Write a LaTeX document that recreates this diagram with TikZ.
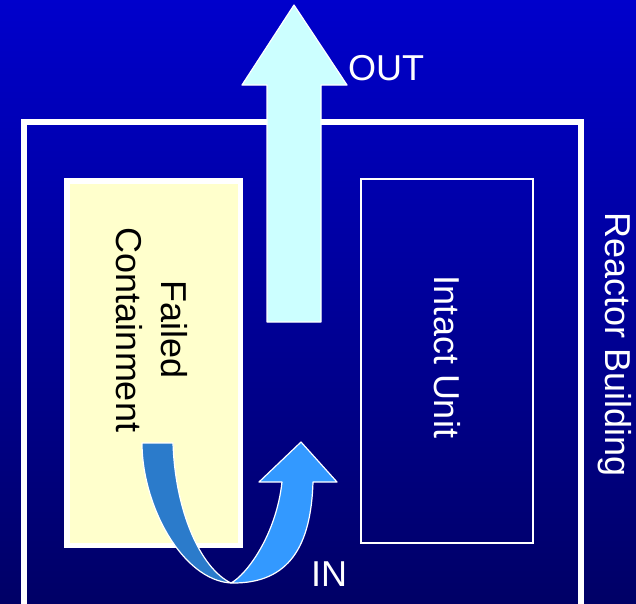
\documentclass[tikz,border=0pt]{standalone}
\usepackage{fontspec}
\setmainfont{Liberation Sans}
\definecolor{bgtop}{RGB}{0,0,204}
\definecolor{bgbot}{RGB}{0,0,102}
\definecolor{fcyellow}{RGB}{255,255,204}
\definecolor{outcyan}{RGB}{204,255,255}
\definecolor{backband}{RGB}{43,123,203}
\definecolor{frontband}{RGB}{51,153,255}
\begin{document}
\begin{tikzpicture}[x=1pt,y=-1pt,
  lbl/.style={text=white,font=\fontsize{36}{45}\selectfont,inner sep=0pt},
  arrowshape/.style={draw=white,line width=1.2pt,line join=round}]
\useasboundingbox (0,0) rectangle (636,603);
\clip (0,0) rectangle (636,603);
\shade[top color=bgtop,bottom color=bgbot] (0,0) rectangle (636,603);
% reactor building
\draw[white,line width=5.5pt] (24,650) -- (24,122) -- (581,122) -- (581,650);
\node[lbl,rotate=-90] (rb) at (615,345) {Reactor Building};
% failed containment
\node[draw=white,line width=5.5pt,fill=fcyellow,minimum width=173.5pt,minimum height=364.5pt,inner sep=0pt] (fc) at (153.5,363) {};
\node[lbl,text=black,rotate=-90,align=center] (fct) at (152,330) {Failed\\Containment};
% intact unit
\node[draw=white,line width=2pt,minimum width=172pt,minimum height=364pt,inner sep=0pt] (iu) at (447,361) {};
\node[lbl,rotate=-90] (iut) at (447,357) {Intact Unit};
% out arrow
\draw[arrowshape,fill=outcyan] (267,322) -- (267,85) -- (242,85) -- (294,5) -- (347,85) -- (321,85) -- (321,322) -- cycle;
\node[lbl,anchor=base west] (out) at (348,80) {OUT};
% in arrow
\draw[arrowshape,fill=backband] (142,443) -- (173,443) .. controls (175,510) and (200,568) .. (231,583)
  .. controls (182,580) and (142,505) .. (142,443) -- cycle;
\draw[arrowshape,fill=frontband] (231,583) .. controls (246,575) and (276,536) .. (282,482)
  -- (259,482) -- (301,442) -- (337,482) -- (313,482)
  .. controls (311,545) and (290,584) .. (231,583) -- cycle;
\node[lbl,anchor=base west] (in) at (311,586) {IN};
\end{tikzpicture}
\end{document}
